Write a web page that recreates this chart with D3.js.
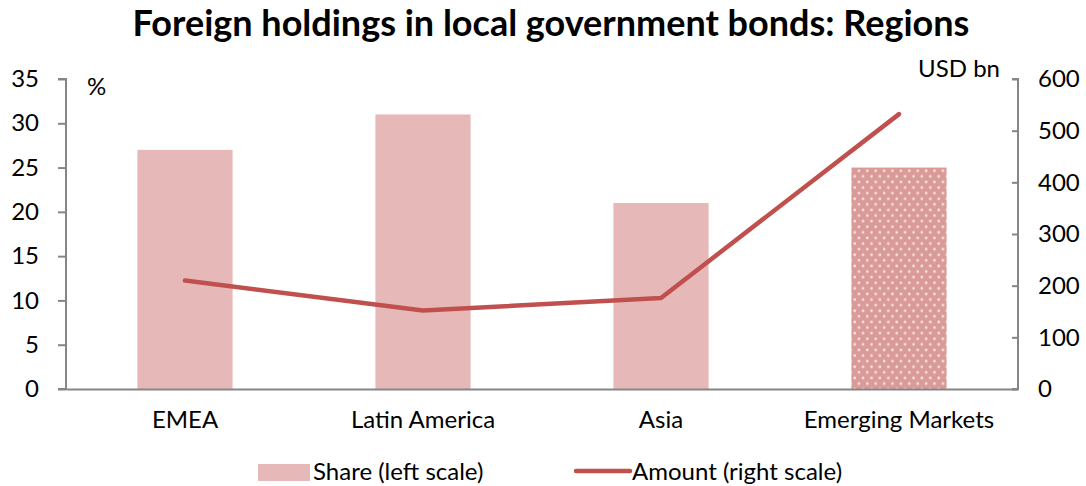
<!DOCTYPE html>
<html>
<head>
<meta charset="utf-8">
<script src="https://cdn.jsdelivr.net/npm/d3@7"></script>
<style>
  body { margin: 0; background: #fff; }
  text { font-family: Lato, "Open Sans", sans-serif; fill: #000; }
</style>
</head>
<body>
<div id="chart"></div>
<script>
// chart data
const regions = ["EMEA", "Latin America", "Asia", "Emerging Markets"];
const shareValues = [27, 31, 21, 25];      // % (left scale)
const amountValues = [210, 152, 176, 532]; // USD bn (right scale)
const leftTicks = [0, 5, 10, 15, 20, 25, 30, 35];
const rightTicks = [0, 100, 200, 300, 400, 500, 600];

const width = 1086;
const height = 486;
const margin = {left: 66, right: 68, top: 79, bottom: 97};
const fontSize = "24px";

const barColor = "#e6b9b8";
const lineColor = "#c0504d";
const axisColor = "#868686";

const svg = d3.select("#chart")
  .append("svg")
  .attr("width", width)
  .attr("height", height);

// dotted fill for the aggregate bar
const defs = svg.append("defs");
const pat = defs.append("pattern")
  .attr("id", "dots")
  .attr("patternUnits", "userSpaceOnUse")
  .attr("width", 8.4)
  .attr("height", 11.2);
pat.append("rect").attr("width", 8.4).attr("height", 11.2).attr("fill", "#da9a98");
pat.append("circle").attr("cx", 2.1).attr("cy", 2.8).attr("r", 1.3).attr("fill", "#f8e6e6");
pat.append("circle").attr("cx", 6.3).attr("cy", 8.4).attr("r", 1.3).attr("fill", "#f8e6e6");

// scales
const xScale = d3.scaleBand()
  .domain(regions)
  .range([margin.left, width - margin.right])
  .paddingInner(0.6)
  .paddingOuter(0.3);

const yLeft = d3.scaleLinear()
  .domain([0, 35])
  .range([height - margin.bottom, margin.top]);

const yRight = d3.scaleLinear()
  .domain([0, 600])
  .range([height - margin.bottom, margin.top]);

// title
svg.append("text")
  .attr("x", 551)
  .attr("y", 36)
  .attr("text-anchor", "middle")
  .attr("font-size", "36px")
  .attr("font-weight", "bold")
  .text("Foreign holdings in local government bonds: Regions");

// bars
svg.selectAll(".bar")
  .data(regions)
  .enter()
  .append("rect")
    .attr("class", "bar")
    .attr("x", d => xScale(d))
    .attr("y", (d, i) => yLeft(shareValues[i]))
    .attr("width", xScale.bandwidth())
    .attr("height", (d, i) => yLeft(0) - yLeft(shareValues[i]))
    .attr("fill", (d, i) => i === regions.length - 1 ? "url(#dots)" : barColor);

// left axis
const gLeft = svg.append("g")
  .attr("transform", `translate(${margin.left},0)`)
  .call(d3.axisLeft(yLeft).tickValues(leftTicks).tickSize(8).tickPadding(19));
gLeft.selectAll("text").attr("font-size", fontSize);

// right axis
const gRight = svg.append("g")
  .attr("transform", `translate(${width - margin.right},0)`)
  .call(d3.axisRight(yRight).tickValues(rightTicks).tickSize(-6).tickPadding(20));
gRight.selectAll("text").attr("font-size", fontSize);

// x axis
const gX = svg.append("g")
  .attr("transform", `translate(0,${height - margin.bottom})`)
  .call(d3.axisBottom(xScale).tickSize(0).tickPadding(22));
gX.selectAll("text").attr("font-size", fontSize);

[gLeft, gRight, gX].forEach(g => {
  g.selectAll(".domain").attr("stroke", axisColor).attr("stroke-width", 2);
  g.selectAll(".tick line").attr("stroke", axisColor).attr("stroke-width", 2);
  g.selectAll("text").attr("fill", "#000");
});
gLeft.select(".domain").attr("d", `M-8,${yLeft(35)}H0V${yLeft(0)}H-8`);
gRight.select(".domain").attr("d", `M-6,${yRight(600)}H0V${yRight(0)}H-6`);

// line for amounts
const line = d3.line()
  .x((d, i) => xScale(regions[i]) + xScale.bandwidth() / 2)
  .y(d => yRight(d));

svg.append("path")
  .datum(amountValues)
  .attr("d", line)
  .attr("fill", "none")
  .attr("stroke", lineColor)
  .attr("stroke-width", 4.5)
  .attr("stroke-linecap", "round")
  .attr("stroke-linejoin", "round");

// unit labels
svg.append("text")
  .attr("x", 87)
  .attr("y", 95)
  .attr("font-size", fontSize)
  .text("%");

svg.append("text")
  .attr("x", 1000)
  .attr("y", 77)
  .attr("text-anchor", "end")
  .attr("font-size", fontSize)
  .text("USD bn");

// legend
const legend = svg.append("g");
legend.append("rect")
  .attr("x", 258)
  .attr("y", 464)
  .attr("width", 52)
  .attr("height", 17)
  .attr("fill", barColor);
legend.append("text")
  .attr("x", 313)
  .attr("y", 480)
  .attr("font-size", fontSize)
  .text("Share (left scale)");
legend.append("line")
  .attr("x1", 576)
  .attr("x2", 630)
  .attr("y1", 471)
  .attr("y2", 471)
  .attr("stroke", lineColor)
  .attr("stroke-width", 4.5)
  .attr("stroke-linecap", "round");
legend.append("text")
  .attr("x", 632)
  .attr("y", 480)
  .attr("font-size", fontSize)
  .text("Amount (right scale)");
</script>
</body>
</html>
